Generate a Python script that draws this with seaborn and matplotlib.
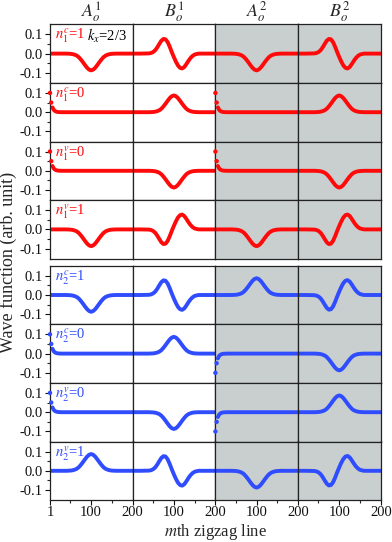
import numpy as np
import matplotlib
matplotlib.use("Agg")
import matplotlib.pyplot as plt
import seaborn as sns

# ---------------- data ----------------
# sample positions (m-th zigzag line) for the localized states
m_wave = [1, 20, 40, 45, 50, 55, 60, 65, 70, 75, 80, 85, 90, 95, 100,
          105, 110, 115, 120, 125, 130, 135, 140, 145, 150, 155, 160, 180, 200]
# single bump centred at m = 100
bump_wave = [0.0, 0.0, 0.0, 0.0005, 0.0011, 0.0026, 0.0055, 0.010, 0.018, 0.030,
             0.044, 0.059, 0.073, 0.083, 0.087, 0.083, 0.073, 0.059, 0.044, 0.030,
             0.018, 0.010, 0.0055, 0.0026, 0.0011, 0.0005, 0.0, 0.0, 0.0]
# peak (m~77) followed by dip (m~119)
twist_wave = [0.0, 0.0, 0.001, 0.003, 0.008, 0.017, 0.032, 0.050, 0.067, 0.076,
              0.074, 0.060, 0.036, 0.008, -0.018, -0.042, -0.062, -0.074, -0.077, -0.070,
              -0.055, -0.038, -0.023, -0.012, -0.005, -0.002, 0.0, 0.0, 0.0]
# edge state decaying from the first zigzag line
m_edge = [1, 4, 7, 10, 13, 16, 20, 25, 30, 200]
edge_wave = [0.10, 0.05, 0.025, 0.012, 0.006, 0.003, 0.001, 0.0003, 0.0, 0.0]

column_titles = [r"$A_o^1$", r"$B_o^1$", r"$A_o^2$", r"$B_o^2$"]
row_labels = [r"$n_1^c$=1", r"$n_1^c$=0", r"$n_1^v$=0", r"$n_1^v$=1",
              r"$n_2^c$=1", r"$n_2^c$=0", r"$n_2^v$=0", r"$n_2^v$=1"]
kx_label = r"$k_x$=2/3"

# shape and sign of each panel (rows x columns)
panel_shapes = [
    [("bump", -1), ("twist", 1), ("bump", -1), ("twist", 1)],
    [("edge", 1), ("bump", 1), ("edge", 1), ("bump", 1)],
    [("edge", 1), ("bump", -1), ("edge", 1), ("bump", -1)],
    [("bump", -1), ("twist", -1), ("bump", -1), ("twist", -1)],
    [("bump", -1), ("twist", 1), ("bump", 1), ("twist", -1)],
    [("edge", 1), ("bump", 1), ("edge", -1), ("bump", -1)],
    [("edge", 1), ("bump", -1), ("edge", -1), ("bump", 1)],
    [("bump", 1), ("twist", 1), ("bump", -1), ("twist", -1)],
]

x_ticks_first = [1, 100, 200]
x_ticks_other = [100, 200]
x_minor = [50, 150]
y_ticks = [-0.1, 0.0, 0.1]
y_tick_labels = ["-0.1", "0.0", "0.1"]
y_minor = [-0.05, 0.05]

# ---------------- style ----------------
sns.set_style("ticks")
plt.rcParams["font.family"] = ["Liberation Serif", "DejaVu Serif"]
plt.rcParams["mathtext.fontset"] = "stix"

RED = "#ff0a0a"
BLUE = "#2f4cff"
GRAY = "#c9cfcf"

W, H = 392, 542
fig = plt.figure(figsize=(W / 100, H / 100), dpi=100)

left_px = 50.0
col_w = 82.7
row_h = 58.6
block_tops = [24.3, 265.7]

shapes = {"bump": (m_wave, bump_wave), "twist": (m_wave, twist_wave),
          "edge": (m_edge, edge_wave)}

for r in range(8):
    block = r // 4
    top = block_tops[block] + (r % 4) * row_h
    color = RED if block == 0 else BLUE
    for c in range(4):
        x0 = left_px + c * col_w
        ax = fig.add_axes([x0 / W, 1 - (top + row_h) / H, col_w / W, row_h / H])
        if c >= 2:
            ax.set_facecolor(GRAY)
        shape, sign = panel_shapes[r][c]
        xs, ys = shapes[shape]
        ys = [sign * v for v in ys]
        if shape == "edge":
            sns.scatterplot(x=xs[:2], y=ys[:2], ax=ax, color=color, s=10,
                            edgecolor="none", clip_on=False, zorder=3)
            sns.lineplot(x=xs[2:], y=ys[2:], ax=ax, color=color, linewidth=2.8,
                         solid_capstyle="round", solid_joinstyle="round")
        else:
            sns.lineplot(x=xs, y=ys, ax=ax, color=color, linewidth=2.8,
                         solid_capstyle="round", solid_joinstyle="round")
        ax.set_xlim(1, 200)
        ax.set_ylim(-0.152, 0.152)
        ax.set_xlabel("")
        ax.set_ylabel("")
        for sp in ax.spines.values():
            sp.set_visible(True)
            sp.set_linewidth(0.9)
            sp.set_color("#222222")
        ax.tick_params(direction="out", length=3.5, width=0.8, labelsize=10.5,
                       pad=1.5, colors="#111111")
        ax.tick_params(axis="x", pad=0.5)
        ax.tick_params(which="minor", direction="out", length=2, width=0.8)
        if c == 0:
            ax.set_yticks(y_ticks)
            ax.set_yticklabels(y_tick_labels)
            ax.set_yticks(y_minor, minor=True)
        else:
            ax.set_yticks([])
        if r == 7:
            ticks = x_ticks_first if c == 0 else x_ticks_other
            ax.set_xticks(ticks)
            ax.set_xticklabels([str(t) for t in ticks])
            ax.set_xticks(x_minor, minor=True)
        else:
            ax.set_xticks([])
        if r == 0:
            ax.set_title(column_titles[c], fontsize=13, pad=3)
        if c == 0:
            ax.text(0.06, 0.8, row_labels[r], transform=ax.transAxes, color=color,
                    fontsize=10.5, ha="left", va="center")
            if r == 0:
                ax.text(0.45, 0.8, kx_label, transform=ax.transAxes, color="black",
                        fontsize=10.5, ha="left", va="center")

fig.text(8 / W, 1 - 262 / H, "Wave function (arb. unit)", rotation=90,
         ha="center", va="center", fontsize=13)
fig.text((left_px + 2 * col_w) / W, 1 - 532 / H, r"$m$th zigzag line",
         ha="center", va="center", fontsize=12)

fig.savefig("out.png", dpi=100)
